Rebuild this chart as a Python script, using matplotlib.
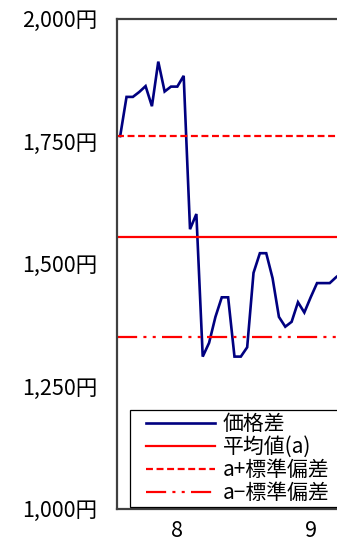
import matplotlib
matplotlib.use("Agg")
import matplotlib.pyplot as plt
from matplotlib.lines import Line2D
from matplotlib.legend_handler import HandlerLine2D
from matplotlib.ticker import FuncFormatter

plt.rcParams['font.family'] = ['Noto Sans CJK JP', 'DejaVu Sans']
plt.rcParams['lines.scale_dashes'] = False

# 価格差 series (円), one value per period
price_gap = [1760, 1840, 1840, 1850, 1862, 1821, 1912, 1851, 1861, 1861,
             1883, 1570, 1601, 1310, 1338, 1391, 1431, 1431, 1310, 1310,
             1329, 1481, 1521, 1521, 1470, 1391, 1371, 1381, 1421, 1400,
             1431, 1460, 1460, 1460, 1472, 1482]
mean_value = 1555
std_value = 205

x_tick_pos = [9, 30]
x_tick_labels = ['8', '9']
y_ticks = [1000, 1250, 1500, 1750, 2000]

labels = ['価格差', '平均値(a)', 'a+標準偏差', 'a−標準偏差']

W, H = 337, 546
fig = plt.figure(figsize=(W / 100, H / 100), dpi=100)

ax_left, ax_right = 117, 420
ax_top, ax_bottom = 18.5, 508.5
ax = fig.add_axes([ax_left / W, 1 - ax_bottom / H,
                   (ax_right - ax_left) / W, (ax_bottom - ax_top) / H])

px_per_step = 6.35
ax.set_xlim(-0.5, -0.5 + (ax_right - ax_left) / px_per_step)
ax.set_ylim(1000, 2000)

xs = list(range(len(price_gap)))
ax.plot(xs, price_gap, color='#000080', lw=1.9, label=labels[0],
        solid_joinstyle='miter')
ax.axhline(mean_value, color='#ff0000', lw=1.6, label=labels[1])
ax.axhline(mean_value + std_value, color='#ff0000', lw=1.6,
           linestyle=(0, (5.0, 2.6)), label=labels[2])
ax.axhline(mean_value - std_value, color='#ff0000', lw=1.6,
           linestyle=(0, (14.5, 4.5, 2.2, 4.5, 2.2, 4.5)), label=labels[3])

ax.set_yticks(y_ticks)
ax.yaxis.set_major_formatter(FuncFormatter(lambda v, p: f'{int(v):,}円'))
ax.set_xticks(x_tick_pos)
ax.set_xticklabels(x_tick_labels)
ax.tick_params(axis='both', length=0, labelsize=15.5, colors='black')
ax.tick_params(axis='y', pad=14)
ax.tick_params(axis='x', pad=8)

for side in ('left', 'bottom', 'top', 'right'):
    ax.spines[side].set_color('#404040')
    ax.spines[side].set_linewidth(1.6)

# legend box runs past the right edge of the figure
leg = ax.legend(loc='upper left',
                bbox_to_anchor=(130 / W, 1 - 503 / H, 240 / W, 93 / H),
                bbox_transform=fig.transFigure, borderaxespad=0, mode='expand',
                fontsize=15, frameon=True, fancybox=False, framealpha=1,
                edgecolor='black', handlelength=3.93, handletextpad=0.38,
                labelspacing=0.05, borderpad=0.15,
                handler_map={Line2D: HandlerLine2D(xpad=0.6)})
leg.get_frame().set_linewidth(0.9)

fig.savefig('out.png', dpi=100)
